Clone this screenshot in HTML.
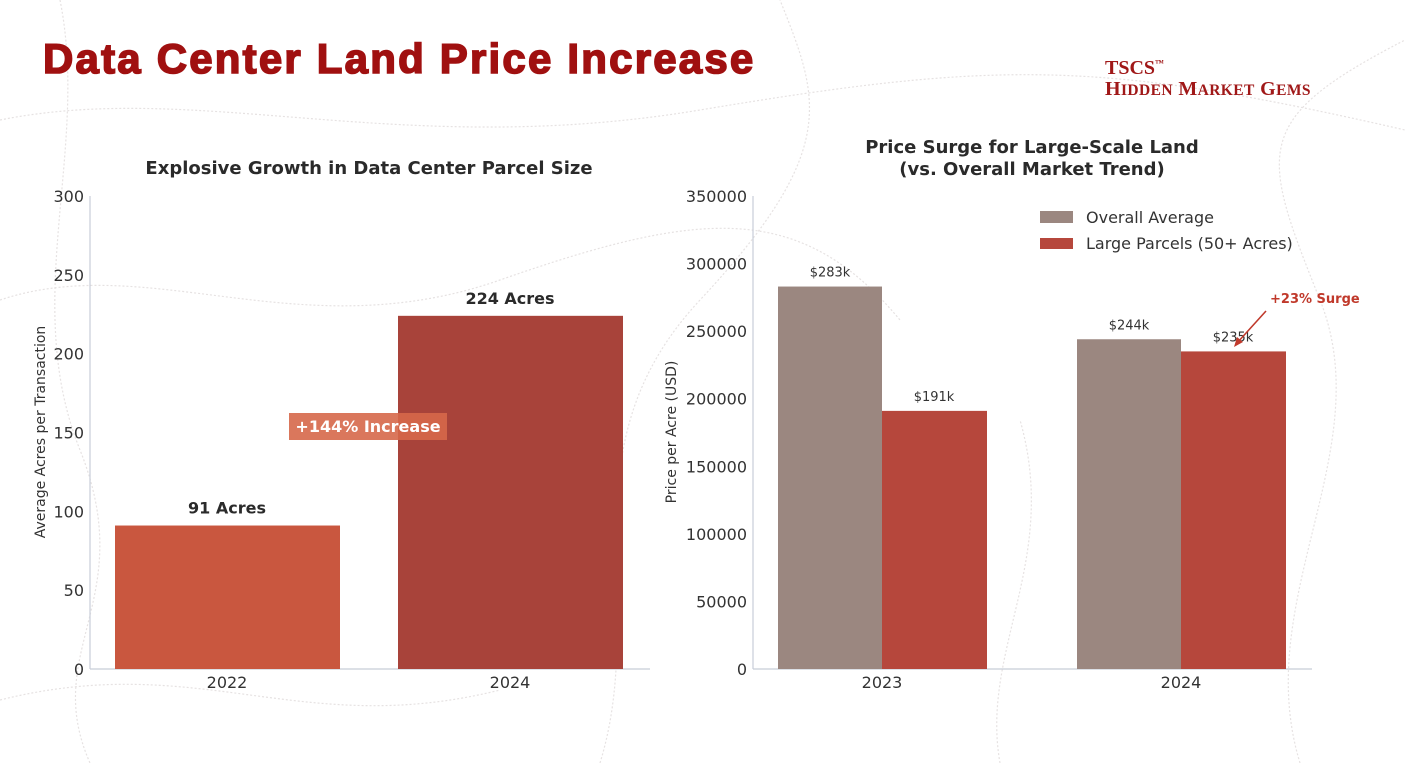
<!DOCTYPE html>
<html><head><meta charset="utf-8">
<style>
html,body{margin:0;padding:0;background:#fff;}
body{width:1405px;height:763px;overflow:hidden;position:relative;font-family:"DejaVu Sans","Liberation Sans",sans-serif;}
svg{position:absolute;left:0;top:0;}
</style></head>
<body>
<svg id="s" width="1405" height="763" xmlns="http://www.w3.org/2000/svg">
  <g id="bg" fill="none" stroke="#e6e2e2" stroke-width="1.2" stroke-dasharray="2 2">
    <path d="M0,120 C200,80 400,160 700,110 S1100,60 1405,130"/>
    <path d="M0,300 C150,250 300,350 500,280 S800,200 900,320"/>
    <path d="M600,763 C650,600 560,450 700,300 S820,100 780,0"/>
    <path d="M1300,763 C1250,600 1380,450 1320,300 S1250,120 1405,40"/>
    <path d="M0,700 C200,650 300,740 500,690"/>
    <path d="M1000,763 C980,650 1060,560 1020,420"/>
    <path d="M60,0 C90,150 20,300 80,450 S40,650 90,763"/>
  </g>
  <text x="43" y="73" font-family="Liberation Sans,Arial,sans-serif" font-weight="bold" font-size="42" letter-spacing="2.2" stroke="#a01010" stroke-width="1.6" fill="#a01010">Data Center Land Price Increase</text>
  <g font-family="Liberation Serif,serif" font-weight="bold" fill="#a01818">
    <text x="1105" y="74" font-size="20">TSCS<tspan font-size="9" dy="-8">™</tspan></text>
    <text x="1105" y="95" font-size="20" letter-spacing="0.4">H<tspan font-size="15.5">IDDEN</tspan> M<tspan font-size="15.5">ARKET</tspan> G<tspan font-size="15.5">EMS</tspan></text>
  </g>
  <g id="left"></g>
  <g id="right"></g>
</svg>
<script>
const NS="http://www.w3.org/2000/svg";
// Left chart data
const leftCategories=["2022","2024"];
const leftValues=[91,224];
const leftLabels=["91 Acres","224 Acres"];
const leftTicks=[0,50,100,150,200,250,300];
// Right chart data
const rightCategories=["2023","2024"];
const overallValues=[283000,244000];
const largeValues=[191000,235000];
const overallLabels=["$283k","$244k"];
const largeLabels=["$191k","$235k"];
const rightTicks=[0,50000,100000,150000,200000,250000,300000,350000];

function el(tag,attrs,parent,text){const e=document.createElementNS(NS,tag);for(const k in attrs)e.setAttribute(k,attrs[k]);if(text!==undefined)e.textContent=text;parent.appendChild(e);return e;}

// LEFT
const L=document.getElementById('left');
const ly=v=>669-v*(473/300);
const lx=i=>227+i*283;
el('text',{x:369,y:174,'text-anchor':'middle','font-size':18,'font-weight':'bold',fill:'#2a2a2a'},L,'Explosive Growth in Data Center Parcel Size');
el('line',{x1:90,y1:196,x2:90,y2:669,stroke:'#c8cdd8','stroke-width':1.2},L);
el('line',{x1:90,y1:669,x2:650,y2:669,stroke:'#c8cdd8','stroke-width':1.2},L);
leftTicks.forEach(t=>{const e=el('text',{x:84,y:ly(t)+6,'text-anchor':'end','font-size':16,fill:'#333'},L,String(t));});
const yt=el('text',{x:45,y:432,'text-anchor':'middle','font-size':14,fill:'#333',transform:'rotate(-90 45 432)'},L,'Average Acres per Transaction');

const leftColors=['#c9573f','#a8433a'];
leftValues.forEach((v,i)=>{
  const r=el('rect',{x:lx(i)-112,y:ly(v),width:225,height:669-ly(v),fill:leftColors[i]},L);
  
  const t=el('text',{x:lx(i),y:ly(v)-12,'text-anchor':'middle','font-size':16,'font-weight':'bold',fill:'#2a2a2a'},L,leftLabels[i]);
  
  const c=el('text',{x:lx(i),y:688,'text-anchor':'middle','font-size':16,fill:'#333'},L,leftCategories[i]);
  
});
const ab=el('rect',{x:289,y:413,width:158,height:27,fill:'#d6684a','fill-opacity':0.9},L);

const at=el('text',{x:368,y:432,'text-anchor':'middle','font-size':16,'font-weight':'bold',fill:'#fff'},L,'+144% Increase');


// RIGHT
const R=document.getElementById('right');
const ry=v=>669-v*(473/350000);
const rx=i=>882+i*299;
const t1=el('text',{x:1032,y:153,'text-anchor':'middle','font-size':18,'font-weight':'bold',fill:'#2a2a2a'},R,'Price Surge for Large-Scale Land');

const t2=el('text',{x:1032,y:175,'text-anchor':'middle','font-size':18,'font-weight':'bold',fill:'#2a2a2a'},R,'(vs. Overall Market Trend)');

el('line',{x1:753,y1:196,x2:753,y2:669,stroke:'#c8cdd8','stroke-width':1.2},R);
el('line',{x1:753,y1:669,x2:1312,y2:669,stroke:'#c8cdd8','stroke-width':1.2},R);
rightTicks.forEach(t=>{const e=el('text',{x:747,y:ry(t)+6,'text-anchor':'end','font-size':16,fill:'#333'},R,String(t));});
const ryt=el('text',{x:676,y:432,'text-anchor':'middle','font-size':14,fill:'#333',transform:'rotate(-90 676 432)'},R,'Price per Acre (USD)');

rightCategories.forEach((c,i)=>{
  const g=el('rect',{x:rx(i)-104,y:ry(overallValues[i]),width:104,height:669-ry(overallValues[i]),fill:'#9b8780'},R);
  
  const r=el('rect',{x:rx(i),y:ry(largeValues[i]),width:105,height:669-ry(largeValues[i]),fill:'#b6473c'},R);
  
  const a=el('text',{x:rx(i)-52,y:ry(overallValues[i])-10,'text-anchor':'middle','font-size':13,fill:'#333'},R,overallLabels[i]);
  
  const b=el('text',{x:rx(i)+52,y:ry(largeValues[i])-10,'text-anchor':'middle','font-size':13,fill:'#333'},R,largeLabels[i]);
  
  const x=el('text',{x:rx(i),y:688,'text-anchor':'middle','font-size':16,fill:'#333'},R,c);
  
});
// legend
const lg=el('g',{},R);
const l1=el('rect',{x:1040,y:211,width:33,height:12,fill:'#9b8780'},lg);
const l1t=el('text',{x:1086,y:223,'font-size':16,fill:'#333'},lg,'Overall Average');
const l2=el('rect',{x:1040,y:238,width:33,height:11,fill:'#b6473c'},lg);
const l2t=el('text',{x:1086,y:249,'font-size':16,fill:'#333'},lg,'Large Parcels (50+ Acres)');
// surge annotation
const ar=el('line',{x1:1266,y1:311,x2:1237,y2:343,stroke:'#c0392b','stroke-width':1.6},R);
el('path',{d:'M1234,347 L1237,337 L1243,342 Z',fill:'#c0392b'},R);
const st=el('text',{x:1270,y:303,'font-size':13,'font-weight':'bold',fill:'#c0392b'},R,'+23% Surge');

</script>
</body></html>
